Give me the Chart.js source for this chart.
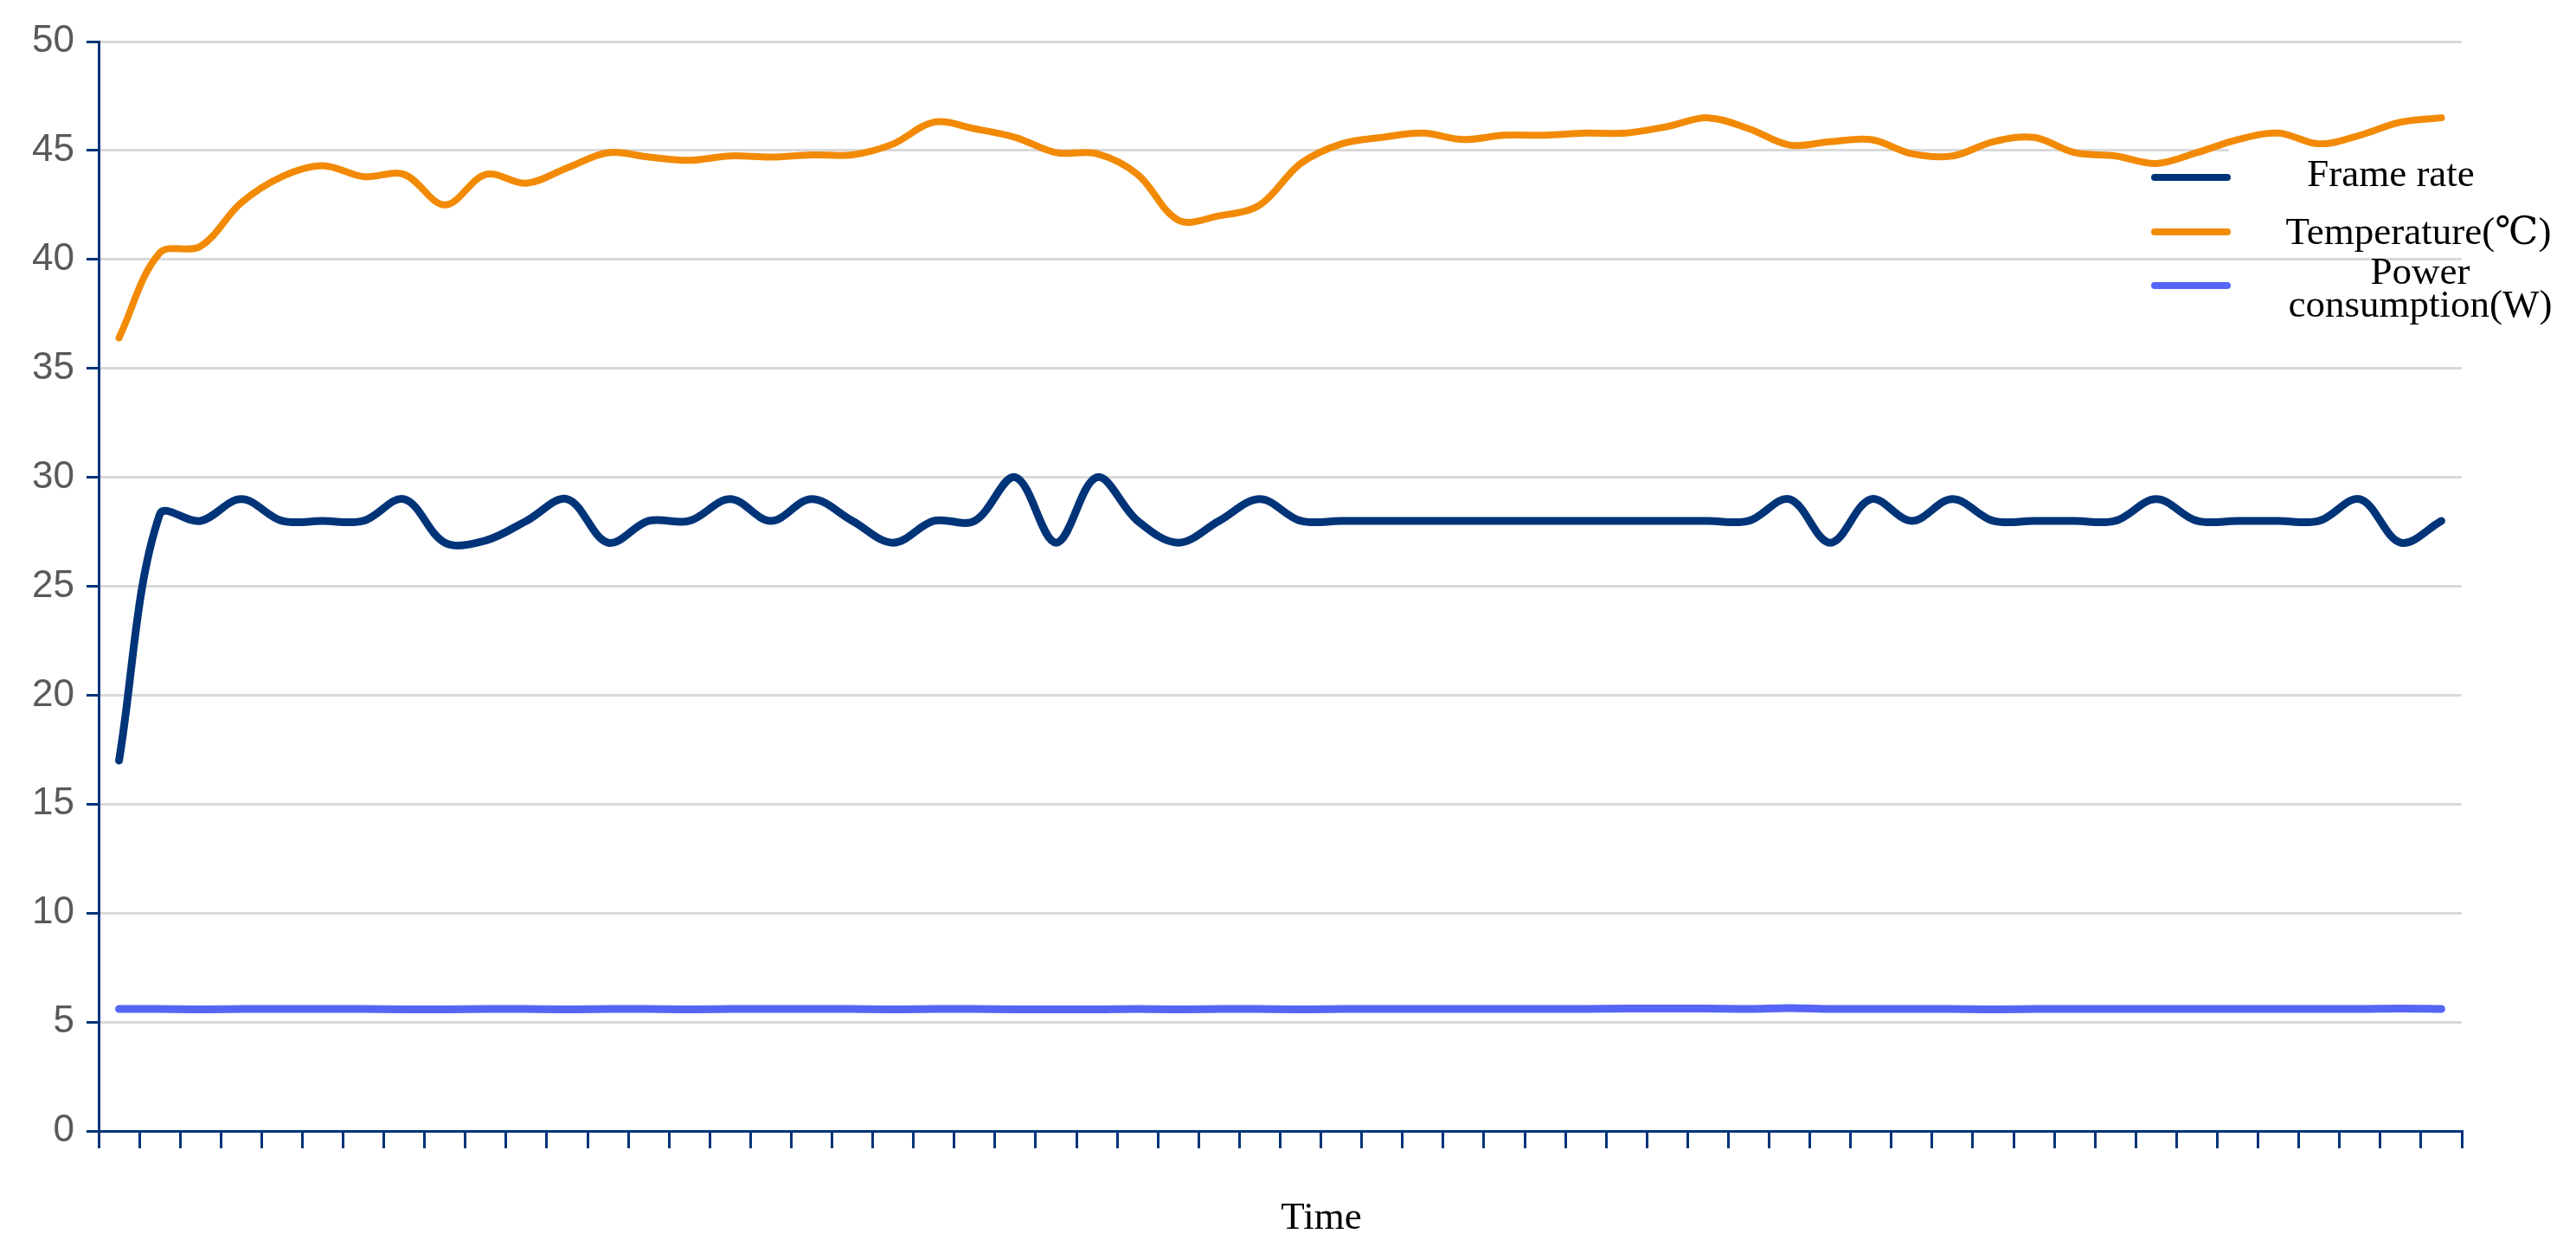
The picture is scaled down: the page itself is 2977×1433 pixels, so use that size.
<!DOCTYPE html>
<html>
<head>
<meta charset="utf-8">
<script src="https://cdn.jsdelivr.net/npm/chart.js@4"></script>
<style>
  html, body { margin: 0; padding: 0; background: #fff; }
  #wrap { width: 2977px; height: 1433px; }
</style>
</head>
<body>
<div id="wrap"><canvas id="grafico" width="2977" height="1433"></canvas></div>
<script>
// amostras de tempo (sem rotulos no eixo)
const tempos = Array.from({ length: 58 }, (_, i) => String(i + 1));

const frameRate = [17, 28.3, 28, 29, 28, 28, 28, 29, 27, 27.1, 28, 29, 27, 28, 28, 29, 28, 29, 28, 27,
    28, 28, 30, 27, 30, 28, 27, 28, 29, 28,
    28, 28, 28, 28, 28, 28, 28, 28, 28, 28, 28,
    29, 27, 29, 28, 29, 28, 28, 28, 28, 29, 28, 28, 28, 28, 29, 27, 28];

const temperatura = [36.4, 40.3, 40.6, 42.6, 43.8, 44.3, 43.8, 43.9, 42.5, 43.9, 43.5, 44.2, 44.9, 44.7, 44.55,
    44.75, 44.7, 44.8, 44.8, 45.3, 46.3, 46.0, 45.6, 44.9, 44.85, 43.9, 41.8, 42.0, 42.5, 44.4,
    45.3, 45.6, 45.8, 45.5, 45.7, 45.7, 45.8, 45.8, 46.1, 46.5, 46.0, 45.25, 45.4, 45.5, 44.85,
    44.75, 45.4, 45.6, 44.9, 44.75, 44.4, 44.9, 45.5, 45.8, 45.3, 45.7, 46.3, 46.5];

const potencia = [5.6, 5.6, 5.58, 5.6, 5.6, 5.6, 5.6, 5.58, 5.58, 5.6, 5.6, 5.58, 5.6, 5.6, 5.58,
    5.6, 5.6, 5.6, 5.6, 5.58, 5.6, 5.6, 5.58, 5.58, 5.58, 5.6, 5.58, 5.6, 5.6, 5.58,
    5.6, 5.6, 5.6, 5.6, 5.6, 5.6, 5.6, 5.62, 5.62, 5.62, 5.6, 5.64, 5.6, 5.6, 5.6,
    5.6, 5.58, 5.6, 5.6, 5.6, 5.6, 5.6, 5.6, 5.6, 5.6, 5.6, 5.62, 5.6];

const nomesSeries = ['Frame rate', 'Temperature(\u2103)', ['Power', 'consumption(W)']];
const coresSeries = ['#003479', '#f28a05', '#5566f6'];
const ticksY = [0, 50, 5];

const AZUL_EIXO = '#003479';

// legenda desenhada a mao, por cima da area do grafico
const legendaManual = {
    id: 'legendaManual',
    afterDraw(chart) {
        const ctx = chart.ctx;
        ctx.save();
        ctx.fillStyle = '#fff';
        ctx.fillRect(2576, 170, 400, 70);

        const linhas = [205, 268, 330];
        ctx.lineCap = 'round';
        linhas.forEach((y, i) => {
            ctx.strokeStyle = coresSeries[i];
            ctx.lineWidth = 8;
            ctx.beginPath();
            ctx.moveTo(2490, y);
            ctx.lineTo(2574, y);
            ctx.stroke();
        });

        ctx.fillStyle = '#000';
        ctx.font = '45px "Liberation Serif", "DejaVu Serif", serif';
        ctx.textAlign = 'center';
        ctx.textBaseline = 'middle';
        ctx.fillText(nomesSeries[0], 2763, 203);
        ctx.fillText(nomesSeries[1], 2795, 270);
        ctx.fillText(nomesSeries[2][0], 2797, 316);
        ctx.fillText(nomesSeries[2][1], 2797, 354);

        ctx.fillText('Time', 1527, 1408);
        ctx.restore();
    }
};

const ctx = document.getElementById('grafico').getContext('2d');

new Chart(ctx, {
    type: 'line',
    data: {
        labels: tempos,
        datasets: [
            { label: nomesSeries[0], data: frameRate, borderColor: coresSeries[0], borderWidth: 9 },
            { label: nomesSeries[1], data: temperatura, borderColor: coresSeries[1], borderWidth: 8 },
            { label: nomesSeries[2].join(' '), data: potencia, borderColor: coresSeries[2], borderWidth: 9 }
        ]
    },
    options: {
        responsive: false,
        animation: false,
        devicePixelRatio: 1,
        layout: { padding: { top: 48, right: 132, left: 0, bottom: 0 } },
        elements: {
            point: { radius: 0 },
            line: { tension: 0.35, borderCapStyle: 'round', borderJoinStyle: 'round', fill: false }
        },
        plugins: {
            legend: { display: false },
            tooltip: { enabled: false }
        },
        scales: {
            x: {
                offset: true,
                grid: {
                    offset: true,
                    drawOnChartArea: false,
                    drawTicks: true,
                    tickLength: 20,
                    color: AZUL_EIXO,
                    lineWidth: 3
                },
                border: { color: AZUL_EIXO, width: 3 },
                ticks: { callback: () => '', autoSkip: false, maxRotation: 0 },
                afterFit(scale) { scale.height = 126; }
            },
            y: {
                min: ticksY[0],
                max: ticksY[1],
                ticks: {
                    stepSize: ticksY[2],
                    color: '#595959',
                    font: { family: '"Liberation Sans", Arial, sans-serif', size: 44 },
                    padding: 14
                },
                grid: {
                    color: '#d9d9d9',
                    lineWidth: 3,
                    tickLength: 14,
                    tickColor: AZUL_EIXO,
                    tickWidth: 3
                },
                border: { color: AZUL_EIXO, width: 3 },
                afterFit(scale) { scale.width = 114; }
            }
        }
    },
    plugins: [legendaManual]
});
</script>
</body>
</html>
